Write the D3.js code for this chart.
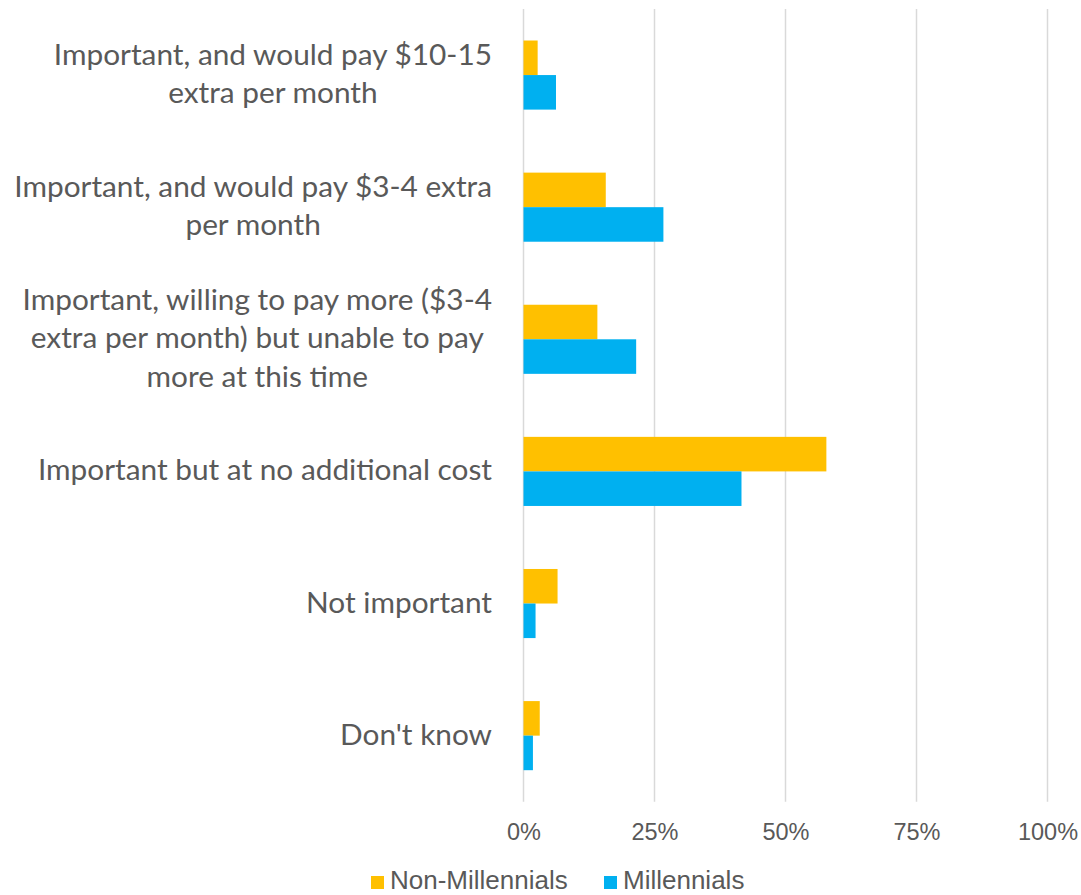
<!DOCTYPE html>
<html>
<head>
<meta charset="utf-8">
<script src="https://cdn.jsdelivr.net/npm/d3@7"></script>
<style>
  html, body { margin: 0; padding: 0; background: #ffffff; }
  svg { display: block; }
</style>
</head>
<body>
<svg id="chart" width="1081" height="895"></svg>
<script>
// Survey answers (line breaks mark how each label wraps)
const categories = [
  "Important, and would pay $10-15\nextra per month",
  "Important, and would pay $3-4 extra\nper month",
  "Important, willing to pay more ($3-4\nextra per month) but unable to pay\nmore at this time",
  "Important but at no additional cost",
  "Not important",
  "Don't know"
];
const seriesNames = ["Non-Millennials", "Millennials"];
const nonMillennials = [0.027, 0.157, 0.141, 0.578, 0.065, 0.031];
const millennials    = [0.062, 0.267, 0.215, 0.416, 0.023, 0.018];
const xTicks = [0, 0.25, 0.5, 0.75, 1];
const seriesColors = ["#FFC000", "#00B0F0"];

const rows = categories.map((c, i) => ({
  category: c,
  values: [nonMillennials[i], millennials[i]]
}));

const svg = d3.select("#chart");
const textColor = "#595959";

const plot = { left: 523.5, right: 1047.5, top: 9, bottom: 801.7 };

const x = d3.scaleLinear().domain([0, 1]).range([plot.left, plot.right]);

const y = d3.scaleBand()
  .domain(categories)
  .range([plot.top, plot.bottom])
  .paddingInner(0.477)
  .paddingOuter(0.2385);

const ySub = d3.scaleBand()
  .domain(seriesNames)
  .range([0, y.bandwidth()])
  .padding(0);

// Vertical gridlines
svg.append("g")
  .selectAll("line")
  .data(xTicks)
  .join("line")
  .attr("x1", d => x(d))
  .attr("x2", d => x(d))
  .attr("y1", plot.top)
  .attr("y2", plot.bottom)
  .attr("stroke", "#d9d9d9")
  .attr("stroke-width", 1.5);

// Bars
const groups = svg.append("g")
  .selectAll("g")
  .data(rows)
  .join("g")
  .attr("transform", d => `translate(0,${y(d.category)})`);

groups.selectAll("rect")
  .data(d => d.values.map((v, j) => ({ name: seriesNames[j], value: v, color: seriesColors[j] })))
  .join("rect")
  .attr("x", x(0))
  .attr("y", d => ySub(d.name))
  .attr("width", d => x(d.value) - x(0))
  .attr("height", ySub.bandwidth())
  .attr("fill", d => d.color);

// X axis tick labels
const xAxis = d3.axisBottom(x)
  .tickValues(xTicks)
  .tickFormat(d3.format(".0%"))
  .tickSize(0)
  .tickPadding(0);

const xg = svg.append("g")
  .attr("transform", `translate(0,${plot.bottom})`)
  .call(xAxis);
xg.select(".domain").remove();
xg.selectAll("text")
  .attr("y", 38)
  .attr("dy", 0)
  .attr("fill", textColor)
  .style("font-family", "'Liberation Sans', Arial, sans-serif")
  .style("font-size", "23.5px");

// Category labels: block right-aligned, lines centred within the block
const labelRight = 492;
const lineGap = 38.5;
const labelFont = "Lato, 'Open Sans', sans-serif";
const labelSize = 29.8;

rows.forEach(r => {
  const lines = r.category.split("\n");
  const cy = y(r.category) + y.bandwidth() / 2;
  const g = svg.append("g");
  const texts = lines.map((ln, i) =>
    g.append("text")
      .text(ln)
      .attr("y", cy + 9 + (i - (lines.length - 1) / 2) * lineGap)
      .attr("text-anchor", "middle")
      .attr("fill", textColor)
      .style("font-family", labelFont)
      .style("font-size", labelSize + "px")
  );
  const w = d3.max(texts, t => t.node().getComputedTextLength());
  texts.forEach(t => t.attr("x", labelRight - w / 2));
});

// Legend
const legendItems = [
  { name: seriesNames[0], color: seriesColors[0], x: 371 },
  { name: seriesNames[1], color: seriesColors[1], x: 604 }
];
const lg = svg.append("g")
  .selectAll("g")
  .data(legendItems)
  .join("g")
  .attr("transform", d => `translate(${d.x},0)`);
lg.append("rect")
  .attr("x", 0)
  .attr("y", 876)
  .attr("width", 13)
  .attr("height", 13)
  .attr("fill", d => d.color);
lg.append("text")
  .attr("x", 19)
  .attr("y", 889)
  .text(d => d.name)
  .attr("fill", textColor)
  .style("font-family", "'Liberation Sans', Arial, sans-serif")
  .style("font-size", "26px");
</script>
</body>
</html>
